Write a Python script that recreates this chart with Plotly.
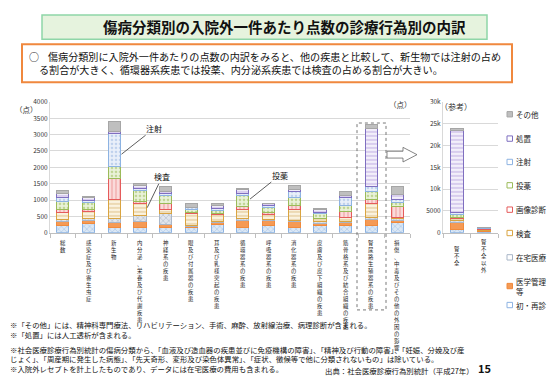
import plotly.graph_objects as go

# ---------------- data ----------------
categories = ["総数", "感染症及び寄生虫症", "新生物", "内分泌、栄養及び代謝疾患", "神経系の疾患",
              "眼及び付属器の疾患", "耳及び乳様突起の疾患", "循環器系の疾患", "呼吸器系の疾患",
              "消化器系の疾患", "皮膚及び皮下組織の疾患", "筋骨格系及び結合組織の疾患",
              "腎尿路生殖器系の疾患", "損傷、中毒及びその他の外因の影響"]
ref_categories = ["腎不全", "腎不全以外"]

series_names = ["初・再診", "医学管理等", "在宅医療", "検査", "画像診断", "投薬", "注射", "処置", "その他"]

shoshin   = [208, 270, 155, 150, 150, 150, 250, 150, 230, 160, 230, 230, 230, 310]
igaku     = [120, 110, 160, 200, 100, 30, 60, 230, 150, 170, 50, 70, 170, 70]
zaitaku   = [70, 40, 105, 180, 340, 30, 20, 70, 30, 50, 50, 50, 75, 50]
kensa     = [228, 230, 600, 360, 130, 370, 220, 260, 140, 330, 100, 130, 410, 50]
gazou     = [99, 60, 630, 70, 160, 30, 50, 100, 60, 120, 20, 180, 120, 330]
touyaku   = [218, 215, 385, 330, 260, 90, 80, 320, 170, 250, 130, 170, 255, 120]
chusha    = [129, 60, 1000, 70, 60, 60, 50, 80, 50, 170, 50, 250, 165, 100]
shochi    = [119, 85, 65, 80, 50, 20, 100, 100, 50, 60, 70, 50, 1760, 150]
sonota    = [109, 40, 300, 70, 165, 120, 50, 50, 20, 120, 30, 120, 130, 230]

ref_shoshin = [750, 330]
ref_igaku   = [1500, 170]
ref_zaitaku = [500, 60]
ref_kensa   = [450, 220]
ref_gazou   = [300, 90]
ref_touyaku = [600, 160]
ref_chusha  = [600, 70]
ref_shochi  = [18700, 80]
ref_sonota  = [400, 70]

main_values = [shoshin, igaku, zaitaku, kensa, gazou, touyaku, chusha, shochi, sonota]
ref_values = [ref_shoshin, ref_igaku, ref_zaitaku, ref_kensa, ref_gazou, ref_touyaku,
              ref_chusha, ref_shochi, ref_sonota]

main_ticks = [0, 500, 1000, 1500, 2000, 2500, 3000, 3500, 4000]
ref_ticks = [0, 5000, 10000, 15000, 20000, 25000, 30000]

legend_labels = ["初・再診", "医学管理<br>等", "在宅医療", "検査", "画像診断", "投薬", "注射", "処置", "その他"]

# ---------------- styles ----------------
# (background, pattern colour, pattern shape, outline)
styles = [
    ("#DCE8F5", "#8DB3E2", "x", "#8DB3E2"),
    ("#F59A55", "#F59A55", "", "#F08A3C"),
    ("#E1E5EC", "#94A3BA", "x", "#A9B6C8"),
    ("#FBF3E0", "#D0A860", "-", "#D9A441"),
    ("#FADADA", "#E88080", "|", "#E55B5B"),
    ("#EAF2DA", "#93B84E", ".", "#9BBB59"),
    ("#EAF0FA", "#93B1E0", ".", "#8DB3E2"),
    ("#F3EFFA", "#A68CD6", "-", "#7F6FC0"),
    ("#BFBFBF", "#BFBFBF", "", "#A6A6A6"),
]

# the page puts the figure 8px from the top-left corner of the window
OX, OY = 8, 8
W, H = 555 - OX, 384 - OY
FONT = "Noto Sans CJK JP"


def px(x):
    return (x - OX) / W


def py(y):
    return 1 - (y - OY) / H


fig = go.Figure()

for name, vals, st in zip(series_names, main_values, styles):
    bg, fg, shp, ln = st
    fig.add_trace(go.Bar(
        x=categories, y=vals, name=name, showlegend=False,
        marker=dict(color=bg, line=dict(color=ln, width=1),
                    pattern=dict(shape=shp, fgcolor=fg, bgcolor=bg, size=4, solidity=0.35)),
        xaxis="x", yaxis="y", hoverinfo="skip"))

for name, vals, st in zip(series_names, ref_values, styles):
    bg, fg, shp, ln = st
    fig.add_trace(go.Bar(
        x=ref_categories, y=vals, name=name, showlegend=False,
        marker=dict(color=bg, line=dict(color=ln, width=1),
                    pattern=dict(shape=shp, fgcolor=fg, bgcolor=bg, size=4, solidity=0.35)),
        xaxis="x2", yaxis="y2", hoverinfo="skip"))

ydom = [py(232.7), py(98.3)]

fig.update_layout(
    width=W, height=H,
    margin=dict(l=0, r=0, t=0, b=0),
    paper_bgcolor="white", plot_bgcolor="white",
    barmode="stack", bargap=0.53,
    font=dict(family=FONT, color="#222"),
    xaxis=dict(domain=[px(50), px(410)], type="category", showticklabels=False,
               ticks="outside", tickson="boundaries", ticklen=4, tickcolor="#BFBFBF",
               showline=True, linecolor="#BFBFBF", showgrid=False, anchor="y"),
    yaxis=dict(domain=ydom, range=[0, 4000], tickvals=main_ticks,
               gridcolor="#D9D9D9", showline=True, linecolor="#D9D9D9",
               tickfont=dict(size=6.5, color="#333"), zeroline=False, anchor="x"),
    xaxis2=dict(domain=[px(443), px(498)], type="category", showticklabels=False,
                ticks="outside", tickson="boundaries", ticklen=4, tickcolor="#BFBFBF",
                showline=True, linecolor="#BFBFBF", showgrid=False, anchor="y2"),
    yaxis2=dict(domain=ydom, range=[0, 30000], tickvals=ref_ticks,
                gridcolor="#D9D9D9", showline=True, linecolor="#D9D9D9",
                tickfont=dict(size=6.5, color="#333"), zeroline=False, anchor="x2"),
)

shapes = []
ann = []

# title box
shapes.append(dict(type="rect", xref="paper", yref="paper", x0=px(42), x1=px(487), y0=py(34), y1=py(9),
                   fillcolor="#E6F3DE", line=dict(color="#8FD6A8", width=1.5), layer="below"))
ann.append(dict(text="<b>傷病分類別の入院外一件あたり点数の診療行為別の内訳</b>", x=px(284), y=py(20.5),
                xref="paper", yref="paper", yanchor="middle", showarrow=False,
                font=dict(size=14.5, color="#111")))

# summary box
shapes.append(dict(type="rect", xref="paper", yref="paper", x0=px(22), x1=px(512), y0=py(78), y1=py(39),
                   fillcolor="white", line=dict(color="#F0883E", width=2), layer="below"))
ann.append(dict(text="○", x=px(27), y=py(52), xref="paper", yref="paper", xanchor="left", yanchor="middle",
                showarrow=False, font=dict(size=10, color="#111")))
ann.append(dict(text="傷病分類別に入院外一件あたりの点数の内訳をみると、他の疾患と比較して、新生物では注射の占め",
                x=px(46), y=py(52), xref="paper", yref="paper", xanchor="left", yanchor="middle",
                showarrow=False, font=dict(size=10.1, color="#111")))
ann.append(dict(text="る割合が大きく、循環器系疾患では投薬、内分泌系疾患では検査の占める割合が大きい。",
                x=px(37), y=py(65), xref="paper", yref="paper", xanchor="left", yanchor="middle",
                showarrow=False, font=dict(size=10.1, color="#111")))

# axis unit labels
ann.append(dict(text="（点）", x=px(13), y=py(98), xref="paper", yref="paper", showarrow=False,
                font=dict(size=7.5, color="#333")))
ann.append(dict(text="（点）", x=px(414), y=py(93), xref="paper", yref="paper", showarrow=False,
                font=dict(size=7.5, color="#333")))
ann.append(dict(text="（参考）", x=px(474), y=py(95), xref="paper", yref="paper", showarrow=False,
                font=dict(size=8, color="#333")))

# vertical category labels (one character per line)
LAB = 5.4
for cat in categories:
    ann.append(dict(text="<br>".join(cat), x=cat, y=0, xref="x", yref="y", showarrow=False,
                    yanchor="top", yshift=-5, borderpad=0, font=dict(size=LAB, color="#222")))
for cat in ref_categories:
    ann.append(dict(text="<br>".join(cat), x=cat, y=0, xref="x2", yref="y2", showarrow=False,
                    yanchor="top", yshift=-4 - (5 - len(cat)) * LAB * 1.3 / 2, borderpad=0,
                    font=dict(size=LAB, color="#222")))


# callouts
def callout(label, cat_idx, value, ax, ay):
    ann.append(dict(text=label, x=cat_idx + 0.28, y=value, xref="x", yref="y",
                    showarrow=True, arrowhead=0, arrowwidth=0.8, arrowcolor="#333",
                    ax=ax, ay=ay, font=dict(size=8, color="#111")))


callout("注射", categories.index("新生物"), 2400, 33, -26)
callout("検査", categories.index("内分泌、栄養及び代謝疾患"), 765, 15, -31)
callout("投薬", categories.index("循環器系の疾患"), 1030, 30, -24)

# dotted box and arrow
shapes.append(dict(type="rect", xref="paper", yref="paper", x0=px(357), x1=px(386), y0=py(312), y1=py(120),
                   line=dict(color="#555", width=0.8, dash="dot")))
pts = [(387, 149), (403, 149), (403, 145), (417, 152.5), (403, 160), (403, 156), (387, 156)]
path = "M" + " L".join(f"{px(a):.5f},{py(b):.5f}" for a, b in pts) + " Z"
shapes.append(dict(type="path", xref="paper", yref="paper", path=path,
                   fillcolor="white", line=dict(color="#666", width=0.8)))

# custom legend (top to bottom)
leg_y = [111, 136, 160, 184, 209, 233, 258, 287.5, 307]
order = list(range(len(series_names)))[::-1]
for yy, i in zip(leg_y, order):
    bg, fg, shp, ln = styles[i]
    shapes.append(dict(type="rect", xref="paper", yref="paper", x0=px(507), x1=px(512.5),
                       y0=py(yy + 2.75), y1=py(yy - 2.75), fillcolor=bg if shp == "" else "white",
                       line=dict(color=ln, width=1)))
    ann.append(dict(text=legend_labels[i], x=px(514), y=py(yy), xref="paper", yref="paper",
                    xanchor="left", yanchor="middle", showarrow=False, align="left",
                    font=dict(size=7.5, color="#222")))

# footnotes
notes = [
    ("※「その他」には、精神科専門療法、リハビリテーション、手術、麻酔、放射線治療、病理診断が含まれる。", 327),
    ("※「処置」には人工透析が含まれる。", 337),
    ("※社会医療診療行為別統計の傷病分類から、「血液及び造血器の疾患並びに免疫機構の障害」、「精神及び行動の障害」、「妊娠、分娩及び産", 353),
    ("じょく」、「周産期に発生した病態」、「先天奇形、変形及び染色体異常」、「症状、徴候等で他に分類されないもの」は除いている。", 362),
    ("※入院外レセプトを計上したものであり、データには在宅医療の費用も含まれる。", 372),
]
for t, yy in notes:
    ann.append(dict(text=t, x=0, y=py(yy), xref="paper", yref="paper", xanchor="left",
                    yanchor="middle", showarrow=False, font=dict(size=7.4, color="#111")))
ann.append(dict(text="出典：社会医療診療行為別統計（平成27年）", x=px(323), y=py(374), xref="paper", yref="paper",
                xanchor="left", yanchor="middle", showarrow=False, font=dict(size=7.4, color="#111")))
ann.append(dict(text="<b>15</b>", x=px(493), y=py(372), xref="paper", yref="paper",
                yanchor="middle", showarrow=False, font=dict(size=11, color="#111")))

fig.update_layout(shapes=shapes, annotations=ann)
fig.write_html("out.html")
